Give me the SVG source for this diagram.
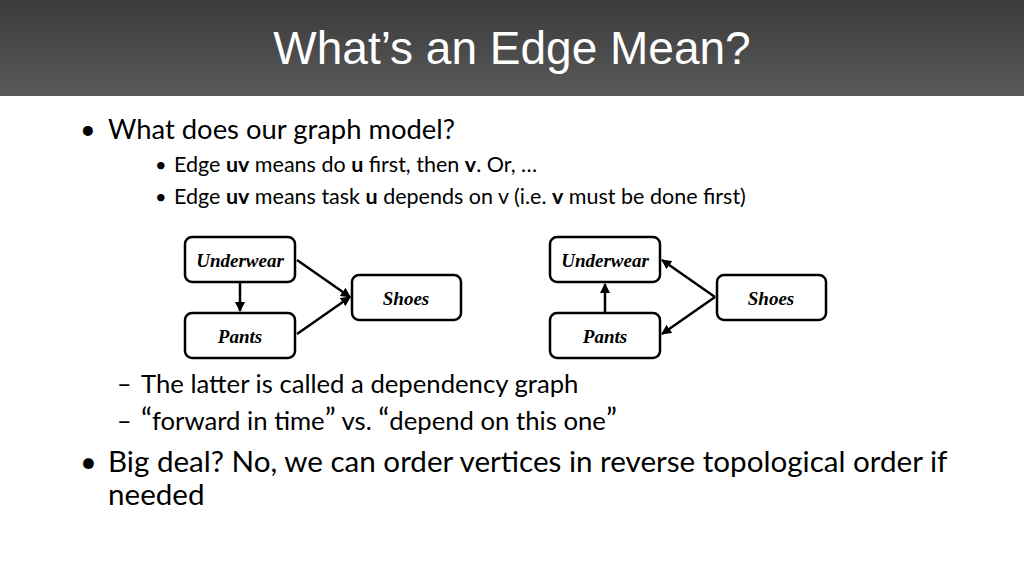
<svg xmlns="http://www.w3.org/2000/svg" width="1024" height="576" viewBox="0 0 1024 576">
<defs>
<linearGradient id="hg" x1="0" y1="0" x2="0" y2="1"><stop offset="0" stop-color="#3a3a3a"/><stop offset="1" stop-color="#5a5a5a"/></linearGradient>
<marker id="ah" viewBox="0 0 10 10" refX="9" refY="5" markerWidth="4" markerHeight="4" orient="auto-start-reverse"><path d="M0,0 L10,5 L0,10 z" fill="#000"/></marker>
<style>
.t{font-family:Lato,"Open Sans",sans-serif;fill:#000}
.n rect{fill:#fff;stroke:#000;stroke-width:2.5}
.n text{font-family:"Liberation Serif",serif;font-weight:bold;font-style:italic;font-size:19px;text-anchor:middle}
.c line{stroke:#000;stroke-width:2.5;marker-end:url(#ah)}
</style>
</defs>
<rect width="1024" height="576" fill="#fff"/>
<rect width="1024" height="96" fill="url(#hg)"/>
<text x="512" y="64" text-anchor="middle" font-family="Liberation Sans,sans-serif" font-size="46" fill="#fff">What’s an Edge Mean?</text>
<text class="t" x="80" y="139" font-size="27">•</text>
<text class="t" x="108" y="139" font-size="27.4">What does our graph model?</text>
<text class="t" x="155" y="172" font-size="20">•</text>
<text class="t" x="174" y="172" font-size="21.5">Edge <tspan font-weight="bold">uv</tspan> means do <tspan font-weight="bold">u</tspan> first, then <tspan font-weight="bold">v</tspan>.  Or, …</text>
<text class="t" x="155" y="204" font-size="20">•</text>
<text class="t" x="174" y="204" font-size="21.5">Edge <tspan font-weight="bold">uv</tspan> means task <tspan font-weight="bold">u</tspan> depends on v (i.e. <tspan font-weight="bold">v</tspan> must be done first)</text>
<g id="L-under" class="n"><rect x="185" y="237" width="110" height="45" rx="7"/><text x="240" y="267">Underwear</text></g>
<g id="L-shoes" class="n"><rect x="352" y="275" width="109" height="45" rx="7"/><text x="406" y="305">Shoes</text></g>
<g id="L-pants" class="n"><rect x="185" y="313" width="110" height="45" rx="7"/><text x="240" y="343">Pants</text></g>
<g id="R-under" class="n"><rect x="550" y="237" width="110" height="45" rx="7"/><text x="605" y="267">Underwear</text></g>
<g id="R-shoes" class="n"><rect x="717" y="275" width="109" height="45" rx="7"/><text x="771" y="305">Shoes</text></g>
<g id="R-pants" class="n"><rect x="550" y="313" width="110" height="45" rx="7"/><text x="605" y="343">Pants</text></g>
<g id="connectors" class="c">
<line x1="240" y1="282" x2="240" y2="311"/>
<line x1="297" y1="260" x2="350" y2="297"/>
<line x1="297" y1="334" x2="350" y2="297"/>
<line x1="605" y1="313" x2="605" y2="284"/>
<line x1="715" y1="297" x2="662" y2="260"/>
<line x1="715" y1="297" x2="662" y2="334"/>
</g>
<text class="t" x="117" y="393" font-size="25">–</text>
<text class="t" x="141" y="393" font-size="25.7">The latter is called a dependency graph</text>
<text class="t" x="117" y="430" font-size="25">–</text>
<text class="t" x="141" y="430" font-size="25.7"><tspan font-size="30">“</tspan>forward in time<tspan font-size="30">”</tspan> vs. <tspan font-size="30">“</tspan>depend on this one<tspan font-size="30">”</tspan></text>
<text class="t" x="80" y="472" font-size="29">•</text>
<text class="t" x="108" y="472" font-size="29.6">Big deal? No, we can order vertices in reverse topological order if</text>
<text class="t" x="108" y="505" font-size="29.6">needed</text>
</svg>
